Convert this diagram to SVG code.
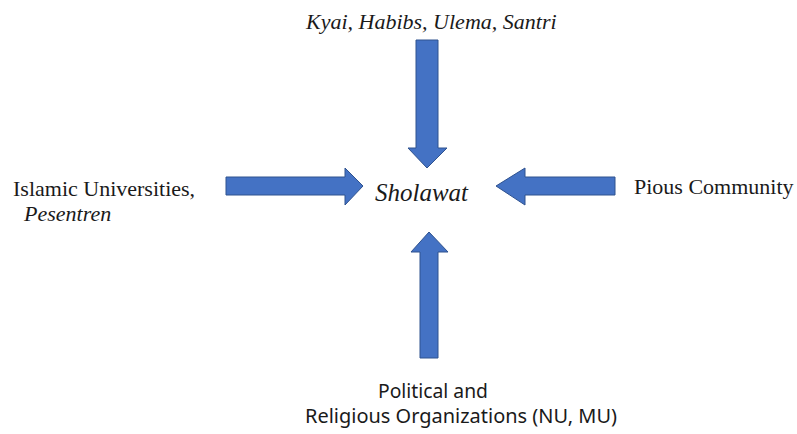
<svg xmlns="http://www.w3.org/2000/svg" width="797" height="434" viewBox="0 0 797 434" font-family="Liberation Serif, serif">
<style>
.arrow{fill:#4472C4;stroke:#2F528F;stroke-width:1}
.tnr{font-family:"Liberation Serif","Times New Roman",serif !important}
</style>
<rect width="797" height="434" fill="#ffffff"/>
<g id="connectors">
<path id="arrow-top" class="arrow" d="M416,40 H438 V148 H447 L427,168 L408,148 H416 Z"/>
<path id="arrow-bottom" class="arrow" d="M429,232 L448,252 H438 V358 H420 V252 H411 Z"/>
<path id="arrow-left" class="arrow" d="M226,177 H345 V168 L363,186 L345,205 V195 H226 Z"/>
<path id="arrow-right" class="arrow" d="M496,186 L525,168 V177 H615 V195 H525 V205 Z"/>
</g>
<g id="node-center"><text class="tnr" x="375" y="201" font-family="serif" font-style="italic" font-size="25" fill="#1a1a1a">Sholawat</text></g>
<g id="node-top"><text class="tnr" x="306" y="29" font-family="serif" font-style="italic" font-size="22" fill="#1a1a1a">Kyai, Habibs, Ulema, Santri</text></g>
<g id="node-left"><text class="tnr" x="13" y="196" font-family="serif" font-size="22" fill="#1a1a1a">Islamic Universities,</text><text class="tnr" x="24" y="221" font-family="serif" font-style="italic" font-size="22" fill="#1a1a1a">Pesentren</text></g>
<g id="node-right"><text class="tnr" x="634" y="194" font-family="serif" font-size="22" fill="#1a1a1a">Pious Community</text></g>
<g id="node-bottom"><text x="378" y="398" font-family="Noto Sans, sans-serif" font-size="19" fill="#1a1a1a" textLength="110" lengthAdjust="spacingAndGlyphs">Political and</text><text x="305" y="423" font-family="Noto Sans, sans-serif" font-size="19" fill="#1a1a1a" textLength="312" lengthAdjust="spacingAndGlyphs">Religious Organizations (NU, MU)</text></g>
</svg>
